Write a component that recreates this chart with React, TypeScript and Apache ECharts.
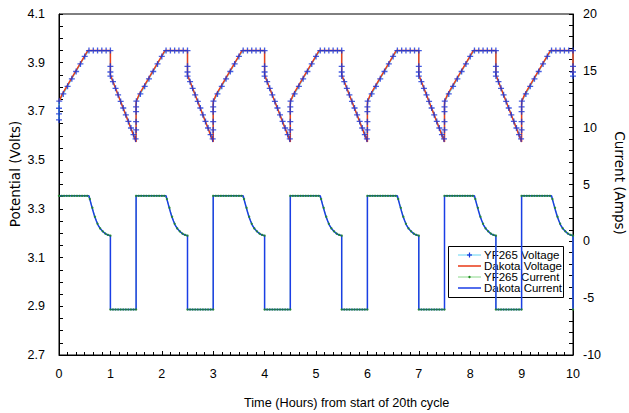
import React, { useEffect, useRef } from "react";
import * as echarts from "echarts";

// Charge cycles start every 1.5 h (1.0 h charge, 0.5 h discharge)
const CYCLE_STARTS = [0, 1.5, 3.0, 4.5, 6.0, 7.5, 9.0];
const T_END = 10;

// YF265 voltage: samples within one cycle (hours from cycle start, volts)
const YF_V_JUMP_FIRST = [3.665, 3.69, 3.713];
const YF_V_JUMP = [3.624, 3.658, 3.699, 3.719];
const YF_V_T = [0.005, 0.083, 0.167, 0.25, 0.333, 0.417, 0.5, 0.583, 0.667, 0.75, 0.833, 0.917, 1.0, 1.0, 1.0, 1.0, 1.05, 1.1, 1.15, 1.2, 1.25, 1.3, 1.35, 1.4, 1.45, 1.49];
const YF_V = [3.742, 3.772, 3.803, 3.834, 3.864, 3.895, 3.926, 3.95, 3.95, 3.95, 3.95, 3.95, 3.95, 3.885, 3.862, 3.845, 3.822, 3.795, 3.768, 3.741, 3.714, 3.686, 3.659, 3.632, 3.605, 3.587];

// Dakota voltage within one cycle
const DK_V_T = [0, 0.06, 0.56, 1.0, 1.0, 1.04, 1.5];
const DK_V = [3.74, 3.77, 3.95, 3.95, 3.85, 3.828, 3.575];

// Dakota current within one cycle (amps)
const DK_I_T = [0, 0.584, 0.604, 0.63, 0.662, 0.695, 0.727, 0.759, 0.805, 0.857, 0.902, 0.954, 1.0, 1.0, 1.5];
const DK_I = [4.0, 4.0, 3.63, 3.19, 2.66, 2.17, 1.79, 1.43, 1.11, 0.85, 0.67, 0.55, 0.5, -6.0, -6.0];

// YF265 current within one cycle
const YF_I_T = [0, 0.05, 0.1, 0.15, 0.2, 0.25, 0.3, 0.35, 0.4, 0.45, 0.5, 0.55, 0.6, 0.65, 0.7, 0.75, 0.8, 0.85, 0.9, 0.95, 1.0, 1.0, 1.05, 1.1, 1.15, 1.2, 1.25, 1.3, 1.35, 1.4, 1.45, 1.5];
const YF_I = [4.0, 4.0, 4.0, 4.0, 4.0, 4.0, 4.0, 4.0, 4.0, 4.0, 4.0, 4.0, 3.72, 2.95, 2.17, 1.55, 1.14, 0.88, 0.69, 0.57, 0.5, -6.0, -6.0, -6.0, -6.0, -6.0, -6.0, -6.0, -6.0, -6.0, -6.0, -6.0];

const X_TICKS = { min: 0, max: 10, interval: 1 };
const V_AXIS = { min: 2.7, max: 4.1, interval: 0.2 };
const I_AXIS = { min: -10, max: 20, interval: 5 };

const LEGEND_NAMES = ["YF265 Voltage", "Dakota Voltage", "YF265 Current", "Dakota Current"];

const C_YF_V_LINE = "#62d4f2";
const C_YF_V_MARK = "#1634dc";
const C_DK_V = "#e8401c";
const C_YF_I_LINE = "#8ad88a";
const C_YF_I_MARK = "#1e8a1e";
const C_DK_I = "#1a3ee6";

function build(tArr: number[], vArr: number[], jump?: (s: number) => number[]) {
  const out: number[][] = [];
  CYCLE_STARTS.forEach((s) => {
    if (jump) jump(s).forEach((v) => out.push([s, v]));
    tArr.forEach((t, i) => {
      const tt = Math.round((s + t) * 10000) / 10000;
      if (tt <= T_END + 1e-9) out.push([tt, vArr[i]]);
    });
  });
  return out;
}

const CROSS = "path://M3.9,0H6.1V3.9H10V6.1H6.1V10H3.9V6.1H0V3.9H3.9Z";
const FONT = "Liberation Sans";

function legendGraphic() {
  const x0 = 448, y0 = 246, w = 115, h = 51;
  const rowY = [255, 266, 277, 288];
  const lx1 = 458, lx2 = 481, tx = 484;
  const children: any[] = [
    { type: "rect", shape: { x: x0 + 0.5, y: y0 + 0.5, width: w, height: h }, style: { fill: "#fff", stroke: "#000", lineWidth: 1 } },
  ];
  const lineCols = [C_YF_V_LINE, "#ee6a50", C_YF_I_LINE, C_DK_I];
  const lineW = [1, 2, 1, 1.5];
  rowY.forEach((y, i) => {
    children.push({ type: "line", shape: { x1: lx1, y1: y, x2: lx2, y2: y }, style: { stroke: lineCols[i], lineWidth: lineW[i] } });
    children.push({ type: "text", x: tx, y: y, style: { text: LEGEND_NAMES[i], font: `11.5px ${FONT}`, fill: "#000", align: "left", verticalAlign: "middle" } });
  });
  const cx = (lx1 + lx2) / 2;
  children.push({ type: "rect", shape: { x: cx - 0.6, y: rowY[0] - 2.5, width: 1.2, height: 5 }, style: { fill: C_YF_V_MARK } });
  children.push({ type: "rect", shape: { x: cx - 2.5, y: rowY[0] - 0.6, width: 5, height: 1.2 }, style: { fill: C_YF_V_MARK } });
  children.push({ type: "circle", shape: { cx: cx, cy: rowY[2], r: 1.2 }, style: { fill: C_YF_I_MARK } });
  return { type: "group", z: 100, children };
}

export default function App() {
  const ref = useRef<HTMLDivElement>(null);
  useEffect(() => {
    if (!ref.current) return;
    const chart = echarts.init(ref.current, undefined, { renderer: "svg" });
    const yfV = build(YF_V_T, YF_V, (s) => (s === 0 ? YF_V_JUMP_FIRST : YF_V_JUMP));
    const dkV = build(DK_V_T, DK_V);
    const dkI = build(DK_I_T, DK_I);
    const yfI = build(YF_I_T, YF_I);

    const axisCommon = {
      axisLine: { show: true, onZero: false, lineStyle: { color: "#000", width: 1 } },
      axisTick: { show: true, inside: true, length: 4, lineStyle: { color: "#000" } },
      splitLine: { show: false },
      minorSplitLine: { show: false },
    };

    chart.setOption({
      animation: false,
      backgroundColor: "#fff",
      grid: { left: 59, right: 56, top: 14, bottom: 58, show: true, borderColor: "#000", borderWidth: 1, backgroundColor: "transparent" },
      xAxis: {
        type: "value",
        ...X_TICKS,
        ...axisCommon,
        minorTick: { show: true, splitNumber: 6, length: 3, lineStyle: { color: "#000" } },
        axisLabel: { fontSize: 12.5, fontFamily: FONT, color: "#000", margin: 12 },
      },
      yAxis: [
        {
          type: "value",
          ...V_AXIS,
          ...axisCommon,
          minorTick: { show: true, splitNumber: 4, length: 4, lineStyle: { color: "#000" } },
          axisLabel: { fontSize: 12.5, fontFamily: FONT, color: "#000", margin: 14, formatter: (v: number) => v.toFixed(1) },
        },
        {
          type: "value",
          position: "right",
          ...I_AXIS,
          ...axisCommon,
          minorTick: { show: true, splitNumber: 5, length: 4, lineStyle: { color: "#000" } },
          axisLabel: { fontSize: 12.5, fontFamily: FONT, color: "#000", margin: 10 },
        },
      ],
      graphic: [
        { type: "text", x: 15, y: 174, rotation: Math.PI / 2, style: { text: "Potential (Volts)", font: "13.5px DejaVu Sans", fill: "#000", align: "center", verticalAlign: "middle" } },
        { type: "text", x: 620, y: 183, rotation: -Math.PI / 2, style: { text: "Current (Amps)", font: "13.5px DejaVu Sans", fill: "#000", align: "center", verticalAlign: "middle" } },
        { type: "text", x: 244, y: 403, style: { text: "Time (Hours) from start of 20th cycle", font: "12.7px Liberation Sans", fill: "#000", align: "left", verticalAlign: "middle" } },
        legendGraphic(),
      ],
      series: [
        {
          name: "YF265 Voltage", type: "line", yAxisIndex: 0, data: yfV,
          lineStyle: { color: C_YF_V_LINE, width: 1.2 }, itemStyle: { color: C_YF_V_MARK },
          symbol: "none", z: 2,
        },
        {
          name: "Dakota Voltage", type: "line", yAxisIndex: 0, data: dkV,
          lineStyle: { color: C_DK_V, width: 1.5 }, itemStyle: { color: C_DK_V },
          symbol: "none", z: 3,
        },
        {
          name: "YF265 Voltage", type: "scatter", yAxisIndex: 0, data: yfV,
          itemStyle: { color: C_YF_V_MARK }, symbol: CROSS, symbolSize: 6, z: 4, silent: true,
        },
        {
          name: "YF265 Current", type: "line", yAxisIndex: 1, data: yfI,
          lineStyle: { color: C_YF_I_LINE, width: 1 }, itemStyle: { color: C_YF_I_MARK },
          symbol: "none", z: 2,
        },
        {
          name: "Dakota Current", type: "line", yAxisIndex: 1, data: dkI,
          lineStyle: { color: C_DK_I, width: 1.5 }, itemStyle: { color: C_DK_I },
          symbol: "none", z: 3,
        },
        {
          name: "YF265 Current", type: "scatter", yAxisIndex: 1, data: yfI,
          itemStyle: { color: C_YF_I_MARK }, symbol: "circle", symbolSize: 2.4, z: 4, silent: true,
        },
      ],
    });
    return () => chart.dispose();
  }, []);
  return <div ref={ref} style={{ position: "fixed", left: 0, top: 0, width: 629, height: 413 }} />;
}
